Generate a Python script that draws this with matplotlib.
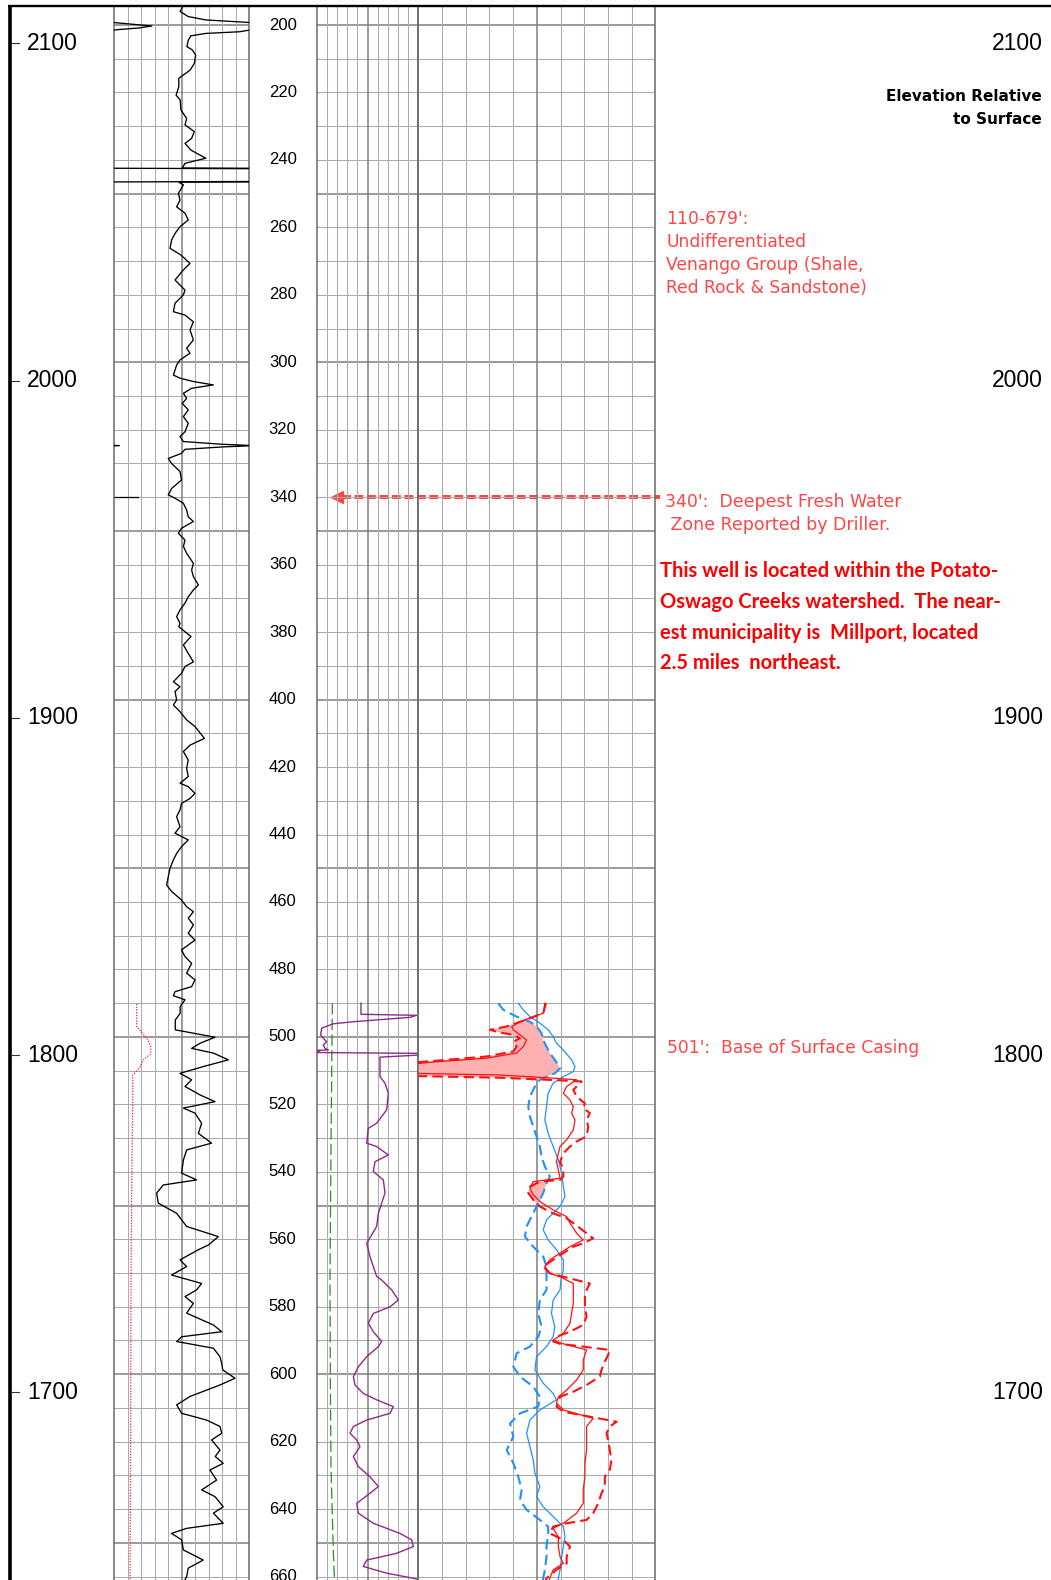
import numpy as np
import matplotlib
matplotlib.use("Agg")
import matplotlib.pyplot as plt
from matplotlib.lines import Line2D
from matplotlib.transforms import blended_transform_factory

# ---------------- data (depth ft, value in track scale 0-100) ----------------
gr_log = np.array([
    (194.5, 51), (196.0, 49), (197.5, 55), (198.5, 68), (199.2, 98), (199.6, 109),
    (200.3, 128), (200.9, 118), (201.4, 102), (202.0, 93), (202.5, 68), (203.2, 57),
    (204.5, 55), (206.4, 54), (207.4, 58), (208.9, 60.5), (211.4, 59.5), (213.4, 56.3),
    (214.8, 51.4), (215.8, 48), (218.3, 48), (220.8, 46), (222.2, 49), (225.2, 49.6),
    (227.7, 53.8), (229.6, 52.6), (231.6, 59.5), (233.6, 57.5), (235.1, 52.6), (237.1, 57),
    (239.5, 68), (241.0, 52.6), (242.4, 50.6), (242.9, 420), (246.1, 420), (246.6, 48),
    (247.4, 51.4), (249.9, 47.7), (251.9, 48.9), (253.9, 46.4), (255.8, 52.6), (257.8, 55),
    (259.8, 48.9), (261.8, 45.2), (263.7, 42.7), (266.2, 41.5), (268.2, 49.6), (270.7, 56.3),
    (272.6, 51.4), (275.6, 45.2), (276.6, 47.7), (278.6, 52.6), (280.0, 51.4), (282.5, 45.2),
    (285.0, 44), (286.0, 52.6), (288.0, 58.8), (290.4, 56.3), (293.4, 58.8), (295.8, 53.8),
    (297.3, 56.3), (299.3, 48.9), (300.8, 46.4), (302.3, 45.2), (303.8, 44), (304.7, 48.9),
    (305.7, 58.8), (306.7, 73.6), (307.7, 57.5), (309.2, 51.4), (310.7, 53.8), (312.2, 50.6),
    (314.1, 55), (316.1, 51.4), (318.1, 55), (320.6, 52.6), (322.0, 48.9), (323.5, 51.4),
    (324.3, 80), (324.7, 104), (325.1, 80), (325.8, 52.6), (327.0, 50), (328.5, 40.2),
    (330.0, 42.7), (332.4, 48.9), (334.9, 50), (337.4, 42.7), (339.3, 40.2), (340.3, 45.2),
    (341.8, 51.4), (343.8, 53.8), (345.8, 55), (347.2, 58.8), (349.2, 50), (350.7, 47.7),
    (352.7, 52.6), (354.6, 51.4), (356.6, 53.8), (359.6, 58.8), (361.6, 57.5), (363.5, 58.8),
    (366.0, 62.5), (367.5, 58.8), (369.5, 55), (371.4, 52.6), (373.4, 48.9), (375.4, 46.4),
    (377.4, 48.9), (378.4, 48), (381.3, 57), (383.8, 51.4), (386.3, 55), (388.8, 58.8),
    (390.2, 52.6), (392.2, 50), (394.7, 44), (396.2, 48.9), (397.6, 45.2), (400.1, 46.4),
    (401.6, 44), (403.6, 48.9), (406.0, 53.8), (408.0, 60), (411.5, 67), (413.5, 56.3),
    (415.4, 51.4), (417.9, 55), (420.4, 53.8), (422.8, 55), (424.8, 48.9), (425.8, 55),
    (427.8, 60), (429.3, 56.3), (430.8, 50), (432.7, 48.9), (434.7, 46.4), (437.7, 48.9),
    (439.6, 45.2), (441.6, 55), (443.6, 50), (445.6, 46.4), (447.5, 44), (450.0, 41.5),
    (452.5, 40.2), (455.0, 39), (456.9, 42.7), (459.4, 50), (461.4, 53.8), (462.9, 58.8),
    (464.8, 55), (466.8, 58.8), (469.3, 55), (471.3, 60), (474.2, 50), (476.2, 52.6),
    (478.2, 57.5), (481.1, 53.8), (483.1, 60), (485.1, 57.5), (486.6, 45.2), (487.8, 44),
    (489.0, 52.6), (491.0, 49), (493.0, 49), (495.0, 45.4), (497.9, 45.4), (498.9, 58.8),
    (500.1, 74.8), (501.9, 63.7), (503.4, 57.5), (504.8, 73.6), (506.8, 84.7), (508.8, 66.1),
    (510.8, 48.9), (512.7, 57.5), (514.7, 52.6), (517.2, 63.7), (519.2, 74.8), (521.1, 51.4),
    (522.6, 60), (525.6, 64.9), (528.6, 62.5), (531.5, 72.3), (533.5, 53.8), (536.5, 51.4),
    (540.4, 50.1), (542.4, 61.2), (543.9, 36.5), (546.3, 31.6), (549.3, 32.8), (552.3, 46.4),
    (556.2, 53.8), (559.2, 77.3), (561.7, 69.9), (563.1, 62.5), (566.1, 48.9), (568.1, 53.8),
    (570.6, 42.6), (573.1, 64.9), (575.0, 61.2), (577.0, 52.6), (579.0, 58.8), (581.9, 53.8),
    (585.4, 73.6), (587.4, 79.8), (588.9, 50.1), (590.3, 46.4), (592.3, 73.6), (594.8, 78.5),
    (596.8, 79.8), (598.7, 80.5), (601.2, 89.6), (603.2, 78.5), (606.6, 56.3), (609.1, 46.4),
    (611.6, 50.1), (613.6, 68.6), (615.5, 78.5), (617.5, 79.8), (619.5, 72.3), (622.5, 78.5),
    (624.4, 75), (626.4, 80.9), (628.4, 71.1), (631.4, 76), (634.3, 64.9), (636.3, 74.8),
    (639.3, 80.9), (641.2, 73.6), (644.2, 80.9), (645.7, 53.8), (647.2, 42.6), (649.1, 50.1),
    (652.1, 51.4), (655.1, 66.1), (657.5, 55), (660.0, 53.8), (661.5, 52),
])

caliper_log = np.array([
    (490.2, 16.8), (497.0, 16.8), (498.0, 19.3), (501.0, 25.4), (503.0, 27.2), (505.0, 27.2),
    (506.8, 21.7), (509.0, 19.3), (510.5, 16.0), (511.3, 13.8), (520.0, 13.8), (545.0, 13.1),
    (572.0, 12.6), (620.0, 12.3), (661.5, 11.9),
])

purple_log = np.array([
    (490.0, 43.6), (493.3, 43.6), (493.6, 98.4), (494.2, 91.8), (495.5, 36.1), (496.1, 16.4),
    (497.4, 4.9), (499.4, 3.9), (500.4, 6.5), (501.4, 9.8), (502.4, 6.5), (503.4, 8.2),
    (503.9, 11.5), (504.1, -23), (504.2, 3), (504.6, -19), (504.9, 113), (505.4, 100),
    (506.0, 62.3), (511.8, 62.3), (513.7, 67.2), (516.7, 70.5), (521.6, 68.9), (525.6, 59.0),
    (527.1, 50.8), (531.5, 49.2), (532.5, 59.0), (535.0, 70.5), (537.0, 57.4), (539.9, 55.7),
    (542.4, 65.6), (546.3, 67.2), (552.3, 60.7), (556.2, 59.0), (561.2, 49.2), (565.1, 52.4),
    (571.0, 59.0), (572.1, 64.0), (575.0, 73.8), (578.0, 80.4), (580.0, 72.2), (582.0, 55.7),
    (584.9, 50.8), (587.4, 55.7), (590.3, 64.0), (591.8, 60.7), (594.8, 49.2), (597.8, 41.0),
    (600.7, 36.1), (603.2, 37.7), (605.7, 45.9), (607.6, 59.0), (609.6, 75.4), (611.6, 72.2),
    (613.6, 49.2), (615.5, 36.1), (617.5, 32.8), (619.5, 39.4), (621.5, 42.6), (624.4, 36.1),
    (627.4, 41.0), (630.4, 52.4), (633.3, 60.7), (635.3, 52.4), (638.3, 39.4), (641.2, 41.0),
    (644.2, 55.7), (647.2, 82.0), (649.1, 93.5), (651.1, 95.1), (653.1, 78.7), (655.1, 49.2),
    (657.0, 45.9), (659.0, 68.9), (660.5, 95.1), (661.5, 110),
])

green_log = np.array([
    (490.0, 15.4), (532.0, 14.1), (572.0, 13.1), (600.0, 13.4), (628.0, 14.1), (653.0, 16.4),
    (661.5, 17.6),
])

red_solid_log = np.array([
    (490.0, 53.4), (493.0, 52.7), (494.0, 48.5), (495.5, 42.9), (496.9, 39.4), (497.9, 40.1),
    (499.4, 42.9), (500.9, 45.7), (502.9, 44.3), (504.8, 41.5), (506.3, 28.8), (507.3, 9.1),
    (508.0, -2), (510.8, -2), (511.3, 34.4), (512.1, 54.1), (512.7, 66.8), (514.7, 62.6),
    (516.7, 61.2), (518.7, 64.0), (520.7, 65.4), (522.6, 64.7), (524.6, 66.1), (527.6, 65.4),
    (530.5, 62.6), (532.5, 59.8), (534.5, 59.1), (537.0, 58.3), (539.4, 59.1), (541.9, 59.8),
    (542.9, 48.5), (544.9, 47.1), (546.8, 48.5), (548.8, 51.3), (551.3, 56.9), (553.3, 62.6),
    (555.2, 64.0), (558.2, 66.8), (560.2, 69.6), (562.2, 64.0), (564.1, 59.8), (566.1, 55.5),
    (568.1, 53.4), (570.1, 55.5), (571.1, 59.8), (573.1, 65.4), (576.0, 65.4), (579.0, 65.4),
    (581.9, 64.7), (584.9, 64.0), (587.9, 61.2), (589.9, 56.9), (591.0, 61.2), (592.8, 71.0),
    (595.8, 69.6), (598.7, 69.6), (601.7, 66.8), (604.7, 62.6), (606.7, 59.1), (608.6, 58.3),
    (610.6, 61.2), (613.1, 73.8), (615.5, 71.0), (618.5, 71.0), (622.5, 71.0), (626.4, 70.3),
    (630.4, 70.3), (634.3, 69.6), (638.3, 69.6), (641.2, 66.8), (644.2, 61.2), (645.7, 56.9),
    (648.2, 59.1), (651.1, 59.1), (654.1, 59.8), (656.1, 61.2), (658.0, 56.9), (660.5, 55.5),
    (661.5, 55.0),
])

red_dash_log = np.array([
    (490.0, 53.9), (493.0, 52.7), (494.5, 47.1), (496.9, 37.3), (497.9, 30.2), (498.7, 34.4),
    (499.4, 40.1), (500.4, 42.9), (501.4, 40.1), (502.9, 41.5), (504.3, 40.1), (505.8, 28.8),
    (506.8, 12.0), (507.6, -2), (511.6, -2), (512.1, 34.4), (512.7, 54.1), (513.2, 68.9),
    (515.7, 65.4), (517.7, 66.8), (519.7, 70.3), (521.1, 69.6), (522.6, 72.4), (524.6, 71.0),
    (526.6, 71.7), (529.5, 71.0), (531.0, 66.8), (532.5, 64.0), (534.5, 61.2), (537.0, 59.8),
    (539.4, 61.2), (541.4, 61.2), (542.4, 59.8), (542.9, 51.3), (544.4, 47.1), (546.3, 46.4),
    (548.3, 48.5), (550.3, 51.3), (552.3, 56.9), (553.8, 62.6), (555.2, 65.4), (558.2, 71.0),
    (559.7, 73.8), (561.2, 69.6), (562.2, 65.4), (564.1, 61.2), (566.1, 56.9), (568.1, 52.7),
    (570.1, 55.5), (571.1, 61.2), (573.1, 72.4), (575.0, 71.0), (577.0, 70.3), (580.0, 70.3),
    (582.9, 71.0), (585.4, 69.6), (587.4, 64.0), (588.9, 58.3), (590.3, 56.9), (591.0, 59.8),
    (592.8, 80.8), (594.3, 80.1), (596.3, 78.7), (598.7, 77.3), (600.7, 76.6), (603.2, 71.0),
    (605.2, 65.4), (606.7, 59.8), (608.1, 59.1), (609.6, 58.3), (611.1, 61.2), (612.6, 72.4),
    (614.1, 83.7), (615.5, 80.8), (617.5, 79.4), (619.5, 80.1), (622.5, 80.8), (625.4, 81.5),
    (628.4, 80.8), (630.4, 78.7), (633.3, 78.7), (635.3, 77.3), (638.3, 75.9), (641.2, 73.8),
    (643.2, 71.0), (644.2, 62.6), (645.2, 56.9), (647.2, 55.5), (649.1, 61.2), (651.1, 64.0),
    (654.1, 62.6), (656.1, 62.6), (658.0, 58.3), (660.5, 54.1), (661.5, 53.5),
])

blue_solid_log = np.array([
    (490.0, 42.2), (492.0, 44.3), (494.0, 47.1), (495.9, 51.3), (497.9, 54.8), (499.9, 56.9),
    (501.9, 58.3), (503.9, 61.2), (506.8, 64.7), (508.8, 66.1), (510.3, 65.4), (511.8, 61.2),
    (513.7, 56.9), (516.7, 54.8), (520.7, 54.1), (524.6, 53.4), (528.6, 54.8), (532.5, 56.9),
    (536.5, 59.1), (540.4, 60.5), (544.4, 61.2), (547.3, 61.9), (550.3, 59.8), (552.3, 56.9),
    (554.2, 54.1), (557.2, 52.7), (560.2, 54.8), (563.1, 58.3), (566.1, 61.2), (569.1, 61.2),
    (572.0, 60.2), (575.0, 59.8), (578.0, 56.9), (582.0, 56.2), (585.9, 57.6), (588.9, 56.9),
    (591.8, 54.1), (594.8, 49.9), (598.7, 49.2), (602.7, 52.7), (605.7, 56.9), (607.6, 58.3),
    (610.6, 51.3), (613.6, 47.1), (617.5, 45.7), (621.5, 47.1), (625.4, 48.5), (629.4, 49.2),
    (633.3, 51.3), (636.3, 49.9), (639.3, 52.7), (642.2, 56.9), (645.2, 61.2), (648.2, 61.9),
    (651.1, 61.2), (654.1, 60.5), (658.0, 59.8), (660.5, 59.1), (661.5, 59.0),
])

blue_dash_log = np.array([
    (490.0, 33.7), (492.0, 35.9), (494.0, 41.5), (495.5, 47.1), (496.9, 49.9), (498.9, 52.0),
    (500.9, 52.7), (502.9, 54.1), (504.8, 55.5), (506.8, 57.6), (509.3, 59.8), (510.8, 57.6),
    (512.7, 51.3), (514.7, 49.2), (517.7, 47.1), (520.7, 46.4), (523.6, 47.1), (526.6, 48.5),
    (529.5, 49.9), (532.5, 51.3), (535.5, 52.0), (538.4, 53.4), (541.4, 55.5), (543.4, 54.1),
    (546.3, 52.7), (548.3, 51.3), (550.3, 49.9), (552.3, 48.5), (554.2, 47.1), (556.2, 45.7),
    (559.2, 45.0), (562.2, 48.5), (565.1, 52.7), (568.1, 54.1), (571.0, 54.1), (575.0, 54.1),
    (578.0, 51.3), (582.0, 50.6), (585.9, 52.0), (588.9, 50.6), (591.8, 47.1), (593.8, 41.5),
    (597.8, 40.1), (600.7, 42.9), (603.7, 48.5), (606.7, 51.3), (609.6, 50.6), (611.6, 42.9),
    (614.6, 38.7), (618.5, 40.1), (622.5, 37.3), (626.4, 40.1), (630.4, 42.2), (634.3, 43.6),
    (637.3, 42.9), (640.2, 45.7), (643.2, 51.3), (645.2, 54.8), (647.2, 54.8), (651.1, 54.1),
    (654.1, 54.1), (658.0, 53.4), (660.5, 52.7), (661.5, 52.5),
])

depth_ticks = list(range(200, 661, 20))
elev_ticks = [2100, 2000, 1900, 1800, 1700]
surface_elev = 2305.4
fresh_water_depth = 340
fresh_water_marker = 18
casing_depth = 501

title_lines = ["Elevation Relative", "to Surface"]
formation_lines = ["110-679':", "Undifferentiated", "Venango Group (Shale,", "Red Rock & Sandstone)"]
water_lines = ["340':  Deepest Fresh Water", " Zone Reported by Driller."]
location_lines = ["This well is located within the Potato-",
                  "Oswago Creeks watershed.  The near-",
                  "est municipality is  Millport, located",
                  "2.5 miles  northeast."]
casing_label = "501':  Base of Surface Casing"

# ---------------- layout ----------------
W, H, DPI = 1051, 1580, 100
fig = plt.figure(figsize=(W / DPI, H / DPI), dpi=DPI)
fig.patch.set_facecolor("white")

PX_PER_FT = 3.373
Y200 = 25.0
Y_TOP = 6.0
D_TOP = 200 - (Y200 - Y_TOP) / PX_PER_FT
D_BOT = 200 + (H - Y200) / PX_PER_FT

GRID = "#ABABAB"
GRID_DARK = "#7E7E7E"
BORDER = "#6A6A6A"


def track(x0, x1):
    ax = fig.add_axes([x0 / W, 0, (x1 - x0) / W, (H - Y_TOP) / H])
    ax.set_xlim(0, 100)
    ax.set_ylim(D_BOT, D_TOP)
    ax.set_xticks([])
    ax.set_yticks([])
    ax.patch.set_alpha(0)
    for side in ("top", "bottom"):
        ax.spines[side].set_visible(False)
    for side in ("left", "right"):
        ax.spines[side].set_color(BORDER)
        ax.spines[side].set_linewidth(1.1)
    for d in range(200, 661, 10):
        major = d % 50 == 0
        ax.axhline(d, color=GRID_DARK if major else GRID, lw=1.1 if major else 0.75, zorder=0)
    for xv in range(10, 100, 10):
        major = xv == 50
        ax.axvline(xv, color=GRID_DARK if major else GRID, lw=1.1 if major else 0.75, zorder=0)
    return ax


ax_gr = track(114, 249)
ax_pu = track(316.7, 418.3)
ax_rs = track(418.3, 655.3)

# track 1: gamma ray with wrap-around backup, caliper
ax_gr.plot(gr_log[:, 1], gr_log[:, 0], color="black", lw=0.95, zorder=3)
ax_gr.plot(gr_log[:, 1] - 100, gr_log[:, 0], color="black", lw=0.95, zorder=3)
ax_gr.plot([0, fresh_water_marker], [fresh_water_depth, fresh_water_depth], color="black", lw=0.9)
ax_gr.plot(caliper_log[:, 1], caliper_log[:, 0], color="#FF2020", lw=0.9, ls=(0, (1, 1.2)), zorder=3)

# track 3 left
ax_pu.plot(green_log[:, 1], green_log[:, 0], color="#2E8B2E", lw=0.9, dashes=(9, 3.5), zorder=3)
ax_pu.plot(purple_log[:, 1], purple_log[:, 0], color="#8B2A8B", lw=1.0, zorder=3)

# track 3 right: resistivity with crossover shading
dgrid = np.linspace(490.0, 661.5, 3000)
rd = np.interp(dgrid, red_dash_log[:, 0], red_dash_log[:, 1])
bd = np.interp(dgrid, blue_dash_log[:, 0], blue_dash_log[:, 1])
ax_rs.fill_betweenx(dgrid, rd, bd, where=rd < bd, color="#FFB0B0", lw=0, zorder=1)
ax_rs.plot(blue_solid_log[:, 1], blue_solid_log[:, 0], color="#2090FF", lw=0.9, zorder=3)
ax_rs.plot(blue_dash_log[:, 1], blue_dash_log[:, 0], color="#2090FF", lw=1.5, dashes=(5, 2.5), zorder=3)
ax_rs.plot(red_solid_log[:, 1], red_solid_log[:, 0], color="#FF1010", lw=0.9, zorder=3)
ax_rs.plot(red_dash_log[:, 1], red_dash_log[:, 0], color="#FF1010", lw=1.5, dashes=(5, 2.5), zorder=3)

trans = blended_transform_factory(fig.transFigure, ax_gr.transData)

# depth labels
for d in depth_ticks:
    ax_gr.text(282.7 / W, d, str(d), transform=trans, ha="center", va="center",
               fontsize=12, family="Liberation Sans", clip_on=False)

# frame lines
fig.add_artist(Line2D([10 / W, 10 / W], [0, 1 - 5 / H], transform=fig.transFigure,
                      color="black", lw=2.6, solid_capstyle="butt"))
fig.add_artist(Line2D([8 / W, 1], [1 - 5.8 / H, 1 - 5.8 / H], transform=fig.transFigure,
                      color="black", lw=1.7, solid_capstyle="butt"))

# elevation labels
for e in elev_ticks:
    d = surface_elev - e
    ax_gr.add_line(Line2D([12 / W, 19 / W], [d, d], transform=trans, color="#333333",
                          lw=0.8, clip_on=False))
    ax_gr.text(27 / W, d, str(e), transform=trans, ha="left", va="center",
               fontsize=16.5, family="Liberation Sans", clip_on=False)
    ax_gr.text(1043 / W, d, str(e), transform=trans, ha="right", va="center",
               fontsize=16.5, family="Liberation Sans", clip_on=False)

# fresh water arrow
ax_gr.plot([342 / W, 660 / W], [fresh_water_depth, fresh_water_depth], transform=trans,
           color="#FF4545", lw=2.9, dashes=(2.2, 0.9), clip_on=False, zorder=5)
ax_gr.plot([337 / W], [fresh_water_depth], transform=trans, marker="<", ms=9,
           color="#FF4545", mec="#FF4545", clip_on=False, zorder=5)


def text_block(lines, x, baseline0, step, **kw):
    for i, s in enumerate(lines):
        fig.text(x / W, 1 - (baseline0 + i * step) / H, s, va="baseline", **kw)


text_block(title_lines, 1042, 101, 23, ha="right", fontsize=11, family="DejaVu Sans",
           weight="bold", color="black")
text_block(formation_lines, 666, 224, 22.9, ha="left", fontsize=12.3, family="DejaVu Sans",
           color="#FF4545")
text_block(water_lines, 665, 507, 23.5, ha="left", fontsize=12.5, family="DejaVu Sans",
           color="#FF4545")
text_block(location_lines, 660, 577, 30.8, ha="left", fontsize=14.5, family="Lato",
           weight="bold", color="#FF0000")
text_block([casing_label], 667, 1053, 0, ha="left", fontsize=12.3, family="DejaVu Sans",
           color="#FF4545")

fig.savefig("out.png", dpi=DPI, facecolor="white")
